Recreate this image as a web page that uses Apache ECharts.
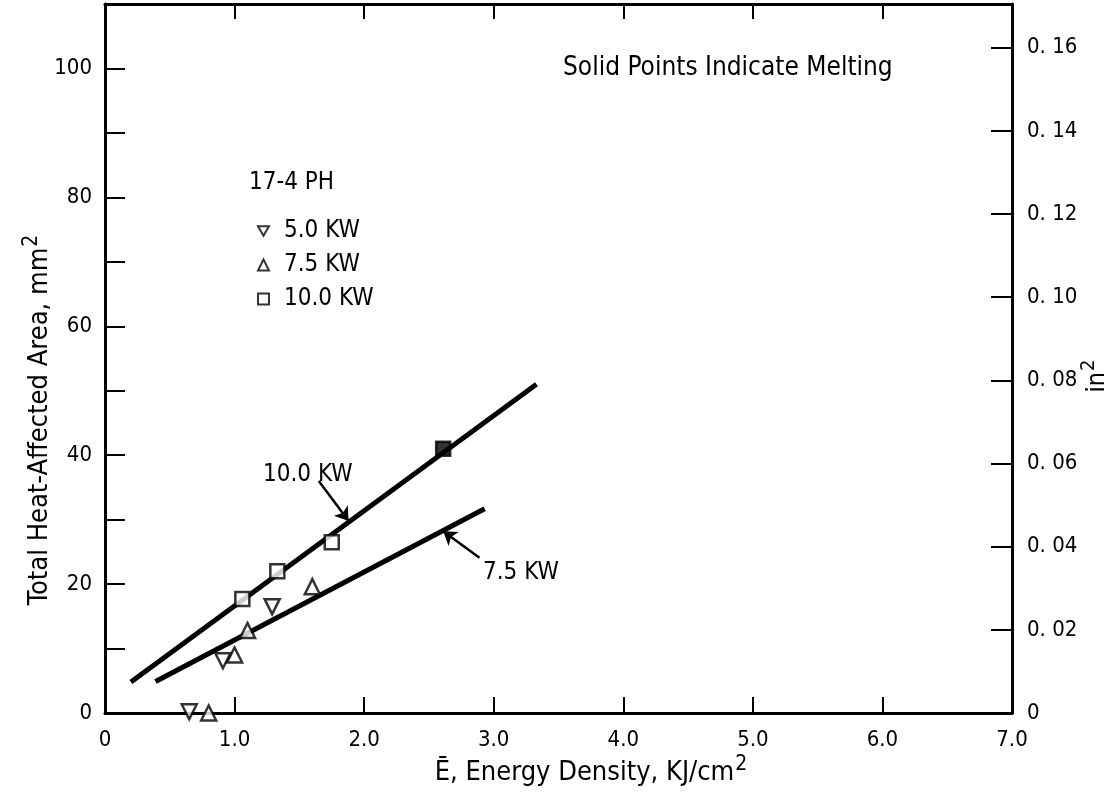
<!DOCTYPE html>
<html><head><meta charset="utf-8">
<script src="https://cdn.jsdelivr.net/npm/echarts@6/dist/echarts.min.js"></script>
<style>html,body{margin:0;padding:0;background:#fff}#c{width:1120px;height:807px}</style>
</head><body><div id="c"></div>
<script>
// ---- data ----
const kw50X = [0.65, 0.91, 1.29];
const kw50Y = [0.2, 8.1, 16.5];
const kw75X = [0.80, 1.00, 1.10, 1.60];
const kw75Y = [0.0, 9.0, 12.8, 19.6];
const kw100X = [1.06, 1.33, 1.75, 2.61];
const kw100Y = [17.7, 22.0, 26.5, 41.0];
const kw100Melted = [false, false, false, true];
const fit100X = [0.20, 3.33];
const fit100Y = [4.8, 51.0];
const fit75X = [0.39, 2.93];
const fit75Y = [4.9, 31.7];
const arrow100X = [1.65, 1.88];
const arrow100Y = [36.0, 29.8];
const arrow75X = [2.89, 2.61];
const arrow75Y = [24.1, 28.2];
const xTickValues = [0, 1, 2, 3, 4, 5, 6, 7];
const xTickLabels = ['0', '1.0', '2.0', '3.0', '4.0', '5.0', '6.0', '7.0'];
const leftTickValues = [0, 20, 40, 60, 80, 100];
const leftTickLabels = ['0', '20', '40', '60', '80', '100'];
const rightTickValues = [0, 0.02, 0.04, 0.06, 0.08, 0.10, 0.12, 0.14, 0.16];
const rightTickLabels = ['0', '0. 02', '0. 04', '0. 06', '0. 08', '0. 10', '0. 12', '0. 14', '0. 16'];
const legendNames = ['5.0 KW', '7.5 KW', '10.0 KW'];
const MM2_PER_IN2 = 645.16;
const Y_MAX = 110;

const FONT = '"DejaVu Sans Condensed", "Liberation Sans Narrow", "Noto Sans", sans-serif';
const zip = (xs, ys) => xs.map((x, i) => [x, ys[i]]);
const lookup = (vals, labels) => v => {
  const i = vals.findIndex(t => Math.abs(t - v) < 1e-9);
  return i < 0 ? '' : labels[i];
};
const hollow = { color: '#fff', borderColor: '#000', borderWidth: 2.5 };
const txt = (text, x, y, size, extra) => ({
  type: 'text', x: x, y: y,
  style: Object.assign({ text: text, fill: '#000', font: size + 'px ' + FONT, textVerticalAlign: 'middle' }, extra || {})
});
const supRich = size => ({ sup: { fontSize: size, fontFamily: FONT, fill: '#000', padding: [0, 0, Math.round(size * 0.8), 1] } });

const chart = echarts.init(document.getElementById('c'), null, { renderer: 'canvas' });
const axisText = { color: '#000', fontSize: 22, fontFamily: FONT };
const line3 = { color: '#000', width: 3 };
chart.setOption({
  animation: false,
  grid: { left: 105, right: 108, top: 4, bottom: 94, containLabel: false },
  xAxis: [
    { type: 'value', position: 'bottom', min: 0, max: 7, interval: 1,
      axisLine: { onZero: false, lineStyle: line3 },
      axisTick: { inside: true, length: 16, lineStyle: { color: '#000', width: 2 } },
      axisLabel: Object.assign({ margin: 16, formatter: lookup(xTickValues, xTickLabels) }, axisText),
      splitLine: { show: false } },
    { type: 'value', position: 'top', min: 0, max: 7, interval: 1,
      axisLine: { onZero: false, lineStyle: line3 },
      axisTick: { inside: true, length: 15, lineStyle: { color: '#000', width: 2 } },
      axisLabel: { show: false }, splitLine: { show: false } }
  ],
  yAxis: [
    { type: 'value', position: 'left', min: 0, max: Y_MAX, interval: 10,
      axisLine: { show: true, onZero: false, lineStyle: line3 },
      axisTick: { show: true, inside: true, length: 20, lineStyle: { color: '#000', width: 2 } },
      axisLabel: Object.assign({ margin: 13, formatter: lookup(leftTickValues, leftTickLabels) }, axisText),
      splitLine: { show: false } },
    { type: 'value', position: 'right', min: 0, max: Y_MAX / MM2_PER_IN2, interval: 0.02,
      axisLine: { show: true, onZero: false, lineStyle: line3 },
      axisTick: { show: true, inside: true, length: 21, lineStyle: { color: '#000', width: 2 } },
      axisLabel: Object.assign({ margin: 15, formatter: lookup(rightTickValues, rightTickLabels) }, axisText),
      splitLine: { show: false } }
  ],
  legend: {
    data: legendNames, orient: 'vertical', left: 252, top: 214,
    itemWidth: 11, itemHeight: 11, itemGap: 10,
    textStyle: { color: '#000', fontSize: 24, fontFamily: FONT, padding: [0, 0, 0, 10] },
    selectedMode: false
  },
  series: [
    { name: 'fit10', type: 'line', data: zip(fit100X, fit100Y), symbol: 'none',
      lineStyle: { color: '#000', width: 5 }, z: 3,
      markLine: { silent: true, symbol: ['none', 'arrow'], symbolSize: 13,
        lineStyle: { color: '#000', width: 2.5, type: 'solid' }, label: { show: false },
        data: [[{ coord: [arrow100X[0], arrow100Y[0]] }, { coord: [arrow100X[1], arrow100Y[1]] }]] } },
    { name: 'fit7.5', type: 'line', data: zip(fit75X, fit75Y), symbol: 'none',
      lineStyle: { color: '#000', width: 5 }, z: 3,
      markLine: { silent: true, symbol: ['none', 'arrow'], symbolSize: 13,
        lineStyle: { color: '#000', width: 2.5, type: 'solid' }, label: { show: false },
        data: [[{ coord: [arrow75X[0], arrow75Y[0]] }, { coord: [arrow75X[1], arrow75Y[1]] }]] } },
    { name: legendNames[0], type: 'scatter', data: zip(kw50X, kw50Y), clip: false,
      symbol: 'path://M0,0 L10,0 L5,8.7 Z', symbolSize: 15, itemStyle: hollow, z: 5 },
    { name: legendNames[1], type: 'scatter', data: zip(kw75X, kw75Y), clip: false,
      symbol: 'triangle', symbolSize: 15, itemStyle: hollow, z: 5 },
    { name: legendNames[2], type: 'scatter', clip: false,
      data: kw100X.map((x, i) => kw100Melted[i]
        ? { value: [x, kw100Y[i]], itemStyle: { color: '#000', borderColor: '#000' } }
        : { value: [x, kw100Y[i]] }),
      symbol: 'rect', symbolSize: 14, itemStyle: hollow, z: 5 }
  ],
  graphic: [
    txt('Solid Points Indicate Melting', 563, 68, 26),
    txt('17-4 PH', 249, 183, 24),
    txt('10.0 KW', 263, 475, 24),
    txt('7.5 KW', 483, 573, 24),
    txt('Ē, Energy Density, KJ/cm{sup|2}', 591, 773, 27, { textAlign: 'center', rich: supRich(21) }),
    { type: 'text', x: 40, y: 420, rotation: Math.PI / 2,
      style: { text: 'Total Heat-Affected Area, mm{sup|2}', fill: '#000', font: '27px ' + FONT,
        textAlign: 'center', textVerticalAlign: 'middle', rich: supRich(21) } },
    { type: 'text', x: 1097, y: 376, rotation: Math.PI / 2,
      style: { text: 'in{sup|2}', fill: '#000', font: '25px ' + FONT,
        textAlign: 'center', textVerticalAlign: 'middle', rich: supRich(20) } }
  ]
});
</script></body></html>
